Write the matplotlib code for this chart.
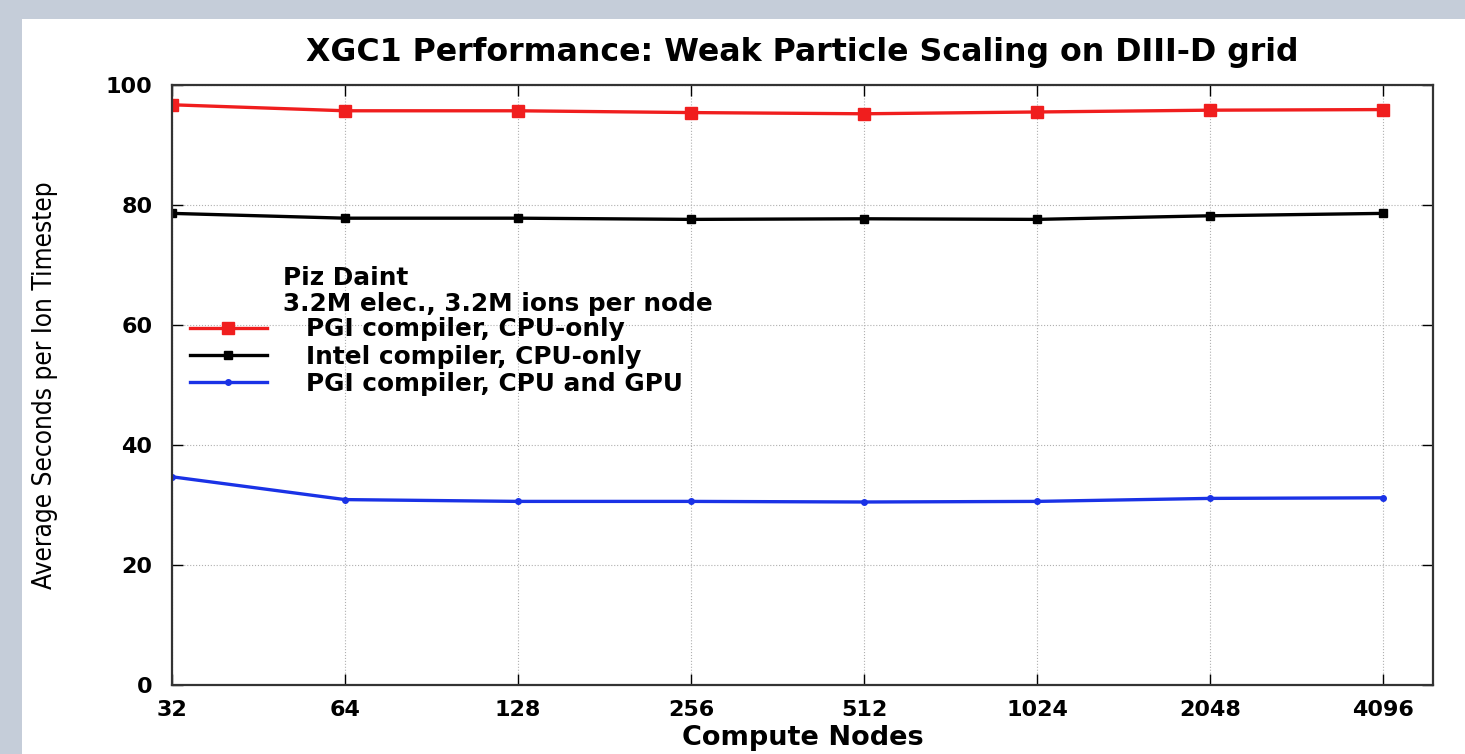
import numpy as np
import matplotlib
matplotlib.use("Agg")
import matplotlib.pyplot as plt
from matplotlib.patches import Rectangle

# weak scaling runs on Piz Daint
nodes = [32, 64, 128, 256, 512, 1024, 2048, 4096]
pgi_cpu = [96.7, 95.7, 95.7, 95.4, 95.2, 95.5, 95.8, 95.9]
intel_cpu = [78.6, 77.8, 77.8, 77.6, 77.7, 77.6, 78.2, 78.6]
pgi_gpu = [34.7, 30.9, 30.6, 30.6, 30.5, 30.6, 31.1, 31.2]

labels = ["PGI compiler, CPU-only",
          "Intel compiler, CPU-only",
          "PGI compiler, CPU and GPU"]
header = ["Piz Daint", "3.2M elec., 3.2M ions per node"]
yticks = [0, 20, 40, 60, 80, 100]

plt.rcParams['font.family'] = ['DejaVu Sans']
plt.rcParams['font.weight'] = 'bold'

fig = plt.figure(figsize=(14.65, 7.54), dpi=100)
fig.patch.set_facecolor('#c5cdd9')
fig.patches.append(Rectangle((0.015, 0), 0.985, 0.975, transform=fig.transFigure,
                             facecolor='white', edgecolor='none', zorder=-10))

ax = fig.add_axes([0.1174, 0.0915, 0.8608, 0.7958])

ax.plot(nodes, pgi_cpu, color='#f01e1e', lw=2.4, marker='s', ms=8, label=labels[0])
ax.plot(nodes, intel_cpu, color='black', lw=2.4, marker='s', ms=6, label=labels[1])
ax.plot(nodes, pgi_gpu, color='#1a32e6', lw=2.4, marker='o', ms=4, label=labels[2])

ax.set_xscale('log', base=2)
ax.set_xlim(32, 4096 * 2 ** 0.289)
ax.set_ylim(0, 100)
ax.set_xticks(nodes)
ax.set_xticklabels([str(n) for n in nodes])
ax.xaxis.set_minor_locator(matplotlib.ticker.NullLocator())
ax.set_yticks(yticks)

ax.tick_params(direction='in', length=8, width=1, top=True, right=True,
               labelsize=16)
ax.tick_params(axis='y', pad=14)
ax.tick_params(axis='x', pad=11)
for lab in ax.get_xticklabels() + ax.get_yticklabels():
    lab.set_fontweight('bold')

ax.grid(True, linestyle=':', color='#b0b0b0', linewidth=0.8)
for s in ax.spines.values():
    s.set_linewidth(1.6)
    s.set_color('#333333')

ax.set_title('XGC1 Performance: Weak Particle Scaling on DIII-D grid',
             fontsize=22.8, fontweight='bold', pad=17)
ax.set_xlabel('Compute Nodes', fontsize=19.5, fontweight='bold')
ax.xaxis.set_label_coords(0.5, -0.066)
ax.set_ylabel('Average Seconds per Ion Timestep', fontsize=18.8,
              fontweight='normal', fontstretch='condensed')
ax.yaxis.set_label_coords(-0.0904, 0.5)

# legend header lines
ax.text(0.088, 0.678, header[0], transform=ax.transAxes, fontsize=17.8,
        fontweight='bold', va='center', ha='left')
ax.text(0.088, 0.635, header[1], transform=ax.transAxes, fontsize=17.8,
        fontweight='bold', va='center', ha='left')
leg = ax.legend(loc='upper left', bbox_to_anchor=(0.0143, 0.613), frameon=False,
                fontsize=17.8, handlelength=3.1, handletextpad=1.6,
                labelspacing=0.14, borderaxespad=0.0, borderpad=0.0)
for t in leg.get_texts():
    t.set_fontweight('bold')

fig.savefig('out.png', dpi=100, facecolor=fig.get_facecolor())
